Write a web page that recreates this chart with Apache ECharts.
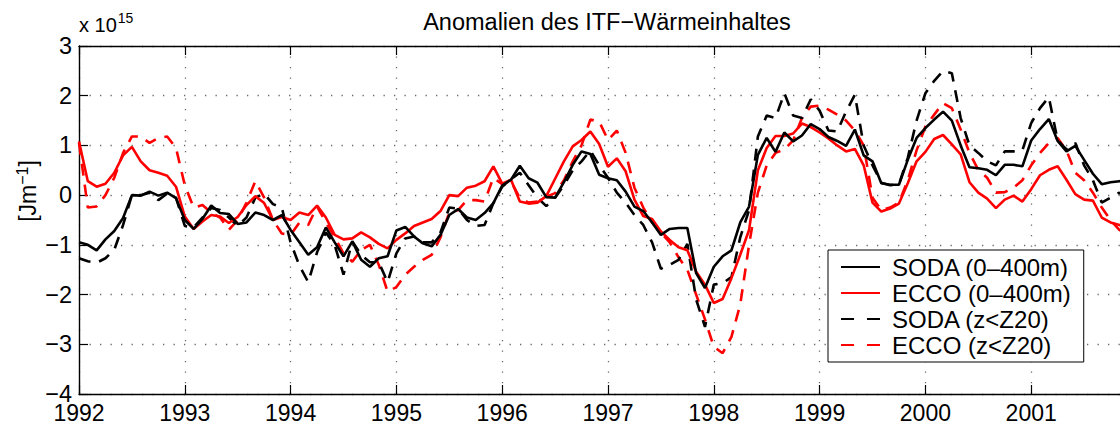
<!DOCTYPE html>
<html>
<head>
<meta charset="utf-8">
<script src="https://cdn.jsdelivr.net/npm/echarts@6/dist/echarts.min.js"></script>
<style>
  html, body { margin: 0; padding: 0; background: #fff; }
  #chart { width: 1120px; height: 427px; }
</style>
</head>
<body>
<div id="chart"></div>
<script>
// Monthly ITF heat content anomalies, units of 1e15 J/m, starting January 1992
const startYear = 1992;
const yearTicks = [1992, 1993, 1994, 1995, 1996, 1997, 1998, 1999, 2000, 2001, 2002];
const valueTicks = [-4, -3, -2, -1, 0, 1, 2, 3];

const seriesNames = ['SODA (0\u2013400m)', 'ECCO (0\u2013400m)', 'SODA (z<Z20)', 'ECCO (z<Z20)'];

// SODA, 0-400 m
const soda400 = [
  -0.95, -1.00, -1.11, -0.89, -0.72, -0.46, 0.00, -0.01, 0.07, -0.01, 0.05, -0.06,
  -0.50, -0.68, -0.48, -0.21, -0.36, -0.38, -0.58, -0.55, -0.35, -0.40, -0.50, -0.40,
  -0.70, -0.95, -1.20, -1.05, -0.65, -0.95, -1.23, -0.93, -1.30, -1.44, -1.27, -1.23,
  -0.71, -0.64, -0.83, -0.97, -1.03, -0.80, -0.40, -0.28, -0.45, -0.50, -0.36, -0.16,
  0.19, 0.31, 0.59, 0.34, 0.25, -0.04, -0.05, 0.26, 0.61, 0.88, 0.83, 0.41,
  0.34, 0.30, 0.07, -0.23, -0.32, -0.55, -0.80, -0.68, -0.66, -0.66, -1.57, -1.87,
  -1.44, -1.23, -1.11, -0.55, -0.23, 0.81, 1.15, 0.87, 1.26, 1.08, 1.20, 1.43,
  1.33, 1.17, 1.09, 0.99, 1.32, 0.80, 0.68, 0.24, 0.21, 0.21, 0.71, 1.15,
  1.35, 1.52, 1.68, 1.50, 1.00, 0.56, 0.54, 0.51, 0.40, 0.61, 0.61, 0.58,
  1.10, 1.33, 1.53, 1.09, 0.88, 0.99, 0.71, 0.43, 0.22, 0.26, 0.28, 0.30
];

// ECCO, 0-400 m
const ecco400 = [
  1.08, 0.28, 0.17, 0.23, 0.45, 0.80, 0.97, 0.68, 0.50, 0.45, 0.39, 0.17,
  -0.43, -0.68, -0.53, -0.40, -0.43, -0.56, -0.44, -0.20, -0.02, -0.16, -0.50, -0.44,
  -0.50, -0.35, -0.40, -0.21, -0.45, -0.80, -0.89, -0.87, -0.75, -0.85, -0.98, -1.07,
  -0.90, -0.77, -0.62, -0.55, -0.48, -0.32, 0.00, -0.02, 0.15, 0.19, 0.28, 0.58,
  0.23, 0.31, -0.13, -0.17, -0.15, -0.02, 0.33, 0.68, 0.98, 1.11, 1.28, 1.03,
  0.57, 0.74, 0.48, -0.09, -0.42, -0.48, -0.73, -0.90, -1.05, -1.11, -1.54, -1.80,
  -2.17, -2.09, -1.67, -1.20, -0.70, 0.50, 0.95, 1.19, 1.19, 1.24, 1.44, 1.37,
  1.26, 1.14, 1.00, 0.88, 0.93, 0.60, -0.15, -0.33, -0.27, -0.17, 0.24, 0.68,
  0.87, 1.13, 1.21, 1.02, 0.82, 0.26, 0.05, -0.07, -0.26, -0.09, -0.01, -0.13,
  0.12, 0.40, 0.51, 0.58, 0.31, 0.02, -0.09, -0.11, -0.45, -0.55, -0.60, -0.70
];

// SODA, above the 20 degree isotherm
const sodaZ20 = [
  -1.27, -1.33, -1.36, -1.27, -1.10, -0.60, 0.00, 0.00, 0.05, -0.10, 0.03, -0.05,
  -0.62, -0.65, -0.45, -0.26, -0.30, -0.45, -0.62, -0.45, -0.05, 0.03, -0.18, -0.25,
  -0.95, -1.42, -1.75, -1.15, -0.75, -1.00, -1.60, -0.93, -1.20, -1.35, -1.35, -1.75,
  -1.17, -0.87, -0.83, -0.95, -0.95, -0.75, -0.25, -0.27, -0.50, -0.62, -0.60, -0.16,
  0.17, 0.32, 0.45, 0.20, -0.05, -0.22, -0.05, 0.20, 0.50, 0.68, 0.90, 0.60,
  0.35, 0.05, -0.15, -0.40, -0.60, -0.95, -1.48, -1.40, -1.30, -0.98, -2.10, -2.65,
  -1.80, -1.77, -1.65, -0.85, -0.30, 1.18, 1.60, 1.55, 2.05, 1.60, 1.55, 1.93,
  1.70, 1.30, 1.28, 1.68, 2.02, 1.00, 0.60, 0.25, 0.20, 0.22, 0.75, 1.50,
  2.05, 2.30, 2.50, 2.45, 1.55, 1.00, 0.85, 0.68, 0.60, 0.88, 0.88, 0.90,
  1.45, 1.75, 1.97, 1.10, 0.92, 1.05, 0.60, 0.30, -0.15, -0.05, 0.05, -0.10
];

// ECCO, above the 20 degree isotherm
const eccoZ20 = [
  1.05, -0.25, -0.23, 0.00, 0.35, 0.85, 1.18, 1.18, 1.05, 1.15, 1.18, 0.95,
  0.20, -0.25, -0.20, -0.35, -0.45, -0.70, -0.50, -0.15, 0.28, -0.05, -0.50, -0.77,
  -0.80, -0.55, -0.60, -0.23, -0.55, -0.85, -1.17, -1.34, -1.10, -1.00, -1.40, -1.94,
  -1.85, -1.60, -1.44, -1.30, -1.20, -0.85, -0.35, -0.30, -0.10, -0.10, -0.13, 0.35,
  0.22, 0.28, -0.06, -0.15, -0.13, -0.03, 0.04, 0.30, 0.68, 1.00, 1.52, 1.48,
  1.11, 1.30, 0.85, 0.15, -0.25, -0.55, -0.75, -0.95, -1.25, -1.50, -2.00, -2.50,
  -3.05, -3.18, -2.85, -2.20, -1.00, 0.05, 0.60, 0.85, 0.92, 1.10, 1.55, 1.78,
  1.80, 1.72, 1.62, 1.50, 1.30, 1.00, -0.05, -0.30, -0.25, -0.15, 0.30, 0.90,
  1.38, 1.62, 1.85, 1.75, 1.32, 0.85, 0.51, 0.35, 0.05, 0.06, 0.15, 0.30,
  0.60, 0.85, 1.05, 1.15, 0.90, 0.45, 0.30, 0.05, -0.25, -0.50, -0.70, -0.80
];

const FONT = '"Liberation Sans", Arial, Helvetica, sans-serif';

// pair each monthly value with its decimal-year position
function toPoints(values) {
  return values.map((v, i) => [startYear + i / 12, v]);
}

const minus = s => String(s).replace('-', '\u2212');

const gridDots = { color: '#6a6a6a', width: 1.3, type: [1.3, 9.2] };
const frame = { color: '#000', width: 1.4 };
const innerTick = { show: true, inside: true, length: 9, lineStyle: { color: '#000', width: 1.2 } };

const chart = echarts.init(document.getElementById('chart'), null, { renderer: 'svg' });

const dashed = [12, 9];

chart.setOption({
  animation: false,
  backgroundColor: '#fff',
  textStyle: { fontFamily: FONT },
  // the plot box runs on past the right edge of the page, to 2002
  grid: { left: 79, right: -17, top: 46, bottom: 33, containLabel: false, outerBoundsMode: 'none' },
  xAxis: [
    {
      type: 'value',
      min: yearTicks[0],
      max: yearTicks[yearTicks.length - 1],
      interval: 1,
      position: 'bottom',
      axisLine: { show: true, onZero: false, lineStyle: frame },
      axisTick: innerTick,
      axisLabel: { color: '#000', fontSize: 23, lineHeight: 20, fontFamily: FONT, margin: 9, showMaxLabel: false, formatter: v => String(v) },
      splitLine: { show: true, lineStyle: gridDots }
    },
    {
      type: 'value',
      min: yearTicks[0],
      max: yearTicks[yearTicks.length - 1],
      interval: 1,
      position: 'top',
      axisLine: { show: true, onZero: false, lineStyle: frame },
      axisTick: innerTick,
      axisLabel: { show: false },
      splitLine: { show: false }
    }
  ],
  yAxis: [
    {
      type: 'value',
      min: valueTicks[0],
      max: valueTicks[valueTicks.length - 1],
      interval: 1,
      position: 'left',
      axisLine: { show: true, onZero: false, lineStyle: frame },
      axisTick: innerTick,
      axisLabel: { color: '#000', fontSize: 23.5, lineHeight: 17, fontFamily: FONT, margin: 7, formatter: v => minus(v) },
      splitLine: { show: true, lineStyle: gridDots }
    }
  ],
  legend: {
    orient: 'vertical',
    left: 828,
    top: 250,
    backgroundColor: '#fff',
    borderColor: '#000',
    borderWidth: 1,
    borderRadius: 0,
    padding: [5, 13, 5, 12],
    itemWidth: 39,
    itemHeight: 14,
    itemGap: 2,
    selectedMode: false,
    itemStyle: { color: 'transparent', borderWidth: 0, opacity: 0 },
    textStyle: { color: '#000', fontSize: 24, fontFamily: FONT, lineHeight: 24, padding: [0, 0, 0, 7] },
    data: [
      { name: seriesNames[0] },
      { name: seriesNames[1] },
      { name: seriesNames[2], lineStyle: { type: [13, 13] } },
      { name: seriesNames[3], lineStyle: { type: [13, 13] } }
    ]
  },
  graphic: [
    {
      type: 'text', x: 607, y: 22, z: 10,
      style: { text: 'Anomalien des ITF\u2212W\u00e4rmeinhaltes', fill: '#000', fontSize: 23.5, fontFamily: FONT, align: 'center', verticalAlign: 'middle' }
    },
    {
      type: 'text', x: 79, y: 38, z: 10,
      style: {
        text: 'x 10{sup|15}', fill: '#000', fontSize: 20, fontFamily: FONT, align: 'left', verticalAlign: 'bottom',
        rich: {
          sup: { fontSize: 14, fontFamily: FONT, fill: '#000', verticalAlign: 'bottom', padding: [0, 0, 13, 1] }
        }
      }
    },
    {
      type: 'text', x: 28, y: 191, z: 10, rotation: Math.PI / 2,
      style: {
        text: '[Jm{sup|\u22121}]', fill: '#000', fontSize: 23, fontFamily: FONT, align: 'center', verticalAlign: 'middle',
        rich: {
          sup: { fontSize: 16, fontFamily: FONT, fill: '#000', verticalAlign: 'bottom', padding: [0, 0, 12, 0] }
        }
      }
    }
  ],
  series: [
    { name: seriesNames[0], type: 'line', data: toPoints(soda400), showSymbol: false, symbol: 'none',
      lineStyle: { color: '#000', width: 2.6 }, itemStyle: { color: '#000' }, z: 4 },
    { name: seriesNames[1], type: 'line', data: toPoints(ecco400), showSymbol: false, symbol: 'none',
      lineStyle: { color: '#ff0000', width: 2.6 }, itemStyle: { color: '#ff0000' }, z: 3 },
    { name: seriesNames[2], type: 'line', data: toPoints(sodaZ20), showSymbol: false, symbol: 'none',
      lineStyle: { color: '#000', width: 2.6, type: dashed }, itemStyle: { color: '#000' }, z: 2 },
    { name: seriesNames[3], type: 'line', data: toPoints(eccoZ20), showSymbol: false, symbol: 'none',
      lineStyle: { color: '#ff0000', width: 2.6, type: dashed }, itemStyle: { color: '#ff0000' }, z: 1 }
  ]
});
</script>
</body>
</html>
